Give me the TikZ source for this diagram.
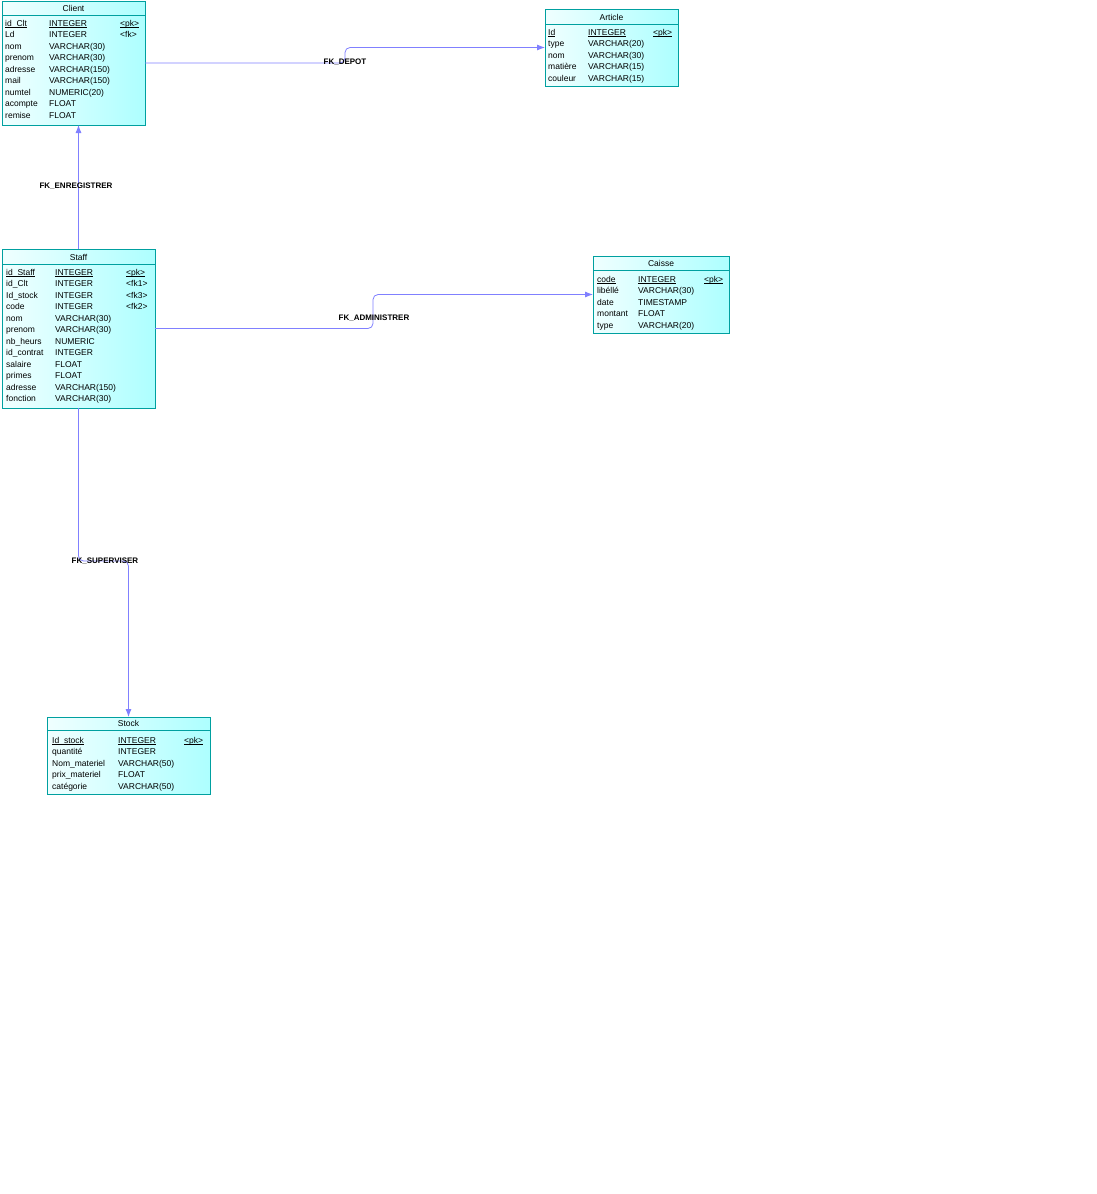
\documentclass[tikz,border=0pt]{standalone}
\usepackage{fontspec}
\setmainfont{Liberation Sans}
\usetikzlibrary{arrows.meta}
\definecolor{tablecol}{RGB}{0,160,160}
\definecolor{fkcol}{RGB}{128,128,255}
\newcommand{\pkey}[1]{\underline{\smash{#1}}}

\begin{document}
\begin{tikzpicture}[x=1pt,y=-1pt,
    tablebox/.style={draw=tablecol,line width=0.8pt,left color=cyan!6,right color=cyan!32,
      anchor=north west,inner sep=0pt,outer sep=0pt},
    fieldtext/.style={anchor=base west,inner sep=0pt,font=\fontsize{8.5}{9}\selectfont},
    tabtitle/.style={inner sep=0pt,font=\fontsize{8.5}{9}\selectfont},
    fk/.style={draw=fkcol,line width=0.8pt,rounded corners=5pt,-{Latex[length=8pt,width=6pt]}},
    fklabel/.style={inner sep=0pt,font=\fontsize{8}{9}\selectfont\bfseries}]
  \useasboundingbox (0,0) rectangle (1097,1194);

  % Client
  \node[tablebox,minimum width=143pt,minimum height=124pt] (client) at (2,1) {};
  \draw[tablecol,line width=0.8pt] ([yshift=-14pt]client.north west) -- ([yshift=-14pt]client.north east);
  \node[tabtitle] (client-title) at ([yshift=-7.5pt]client.north) {Client};
  \foreach \n/\t/\k [count=\i] in {{\pkey{id\_Clt}}/{\pkey{INTEGER}}/{\pkey{<pk>}},
      Ld/INTEGER/<fk>, nom/VARCHAR(30)/{}, prenom/VARCHAR(30)/{}, adresse/VARCHAR(150)/{},
      mail/VARCHAR(150)/{}, numtel/NUMERIC(20)/{}, acompte/FLOAT/{}, remise/FLOAT/{}}
  {
    \node[fieldtext] (client-n\i) at (5,{26+11.5*(\i-1)}) {\n};
    \node[fieldtext] (client-t\i) at (49,{26+11.5*(\i-1)}) {\t};
    \node[fieldtext] (client-k\i) at (120,{26+11.5*(\i-1)}) {\k};
  }

  % Article
  \node[tablebox,minimum width=133pt,minimum height=77pt] (article) at (545,9) {};
  \draw[tablecol,line width=0.8pt] ([yshift=-15pt]article.north west) -- ([yshift=-15pt]article.north east);
  \node[tabtitle] (article-title) at ([yshift=-8pt]article.north) {Article};
  \foreach \n/\t/\k [count=\i] in {{\pkey{Id}}/{\pkey{INTEGER}}/{\pkey{<pk>}},
      type/VARCHAR(20)/{}, nom/VARCHAR(30)/{}, matière/VARCHAR(15)/{}, couleur/VARCHAR(15)/{}}
  {
    \node[fieldtext] (article-n\i) at (548,{35+11.5*(\i-1)}) {\n};
    \node[fieldtext] (article-t\i) at (588,{35+11.5*(\i-1)}) {\t};
    \node[fieldtext] (article-k\i) at (653,{35+11.5*(\i-1)}) {\k};
  }

  % Staff
  \node[tablebox,minimum width=153pt,minimum height=159pt] (staff) at (2,249) {};
  \draw[tablecol,line width=0.8pt] ([yshift=-15pt]staff.north west) -- ([yshift=-15pt]staff.north east);
  \node[tabtitle] (staff-title) at ([yshift=-8pt]staff.north) {Staff};
  \foreach \n/\t/\k [count=\i] in {{\pkey{id\_Staff}}/{\pkey{INTEGER}}/{\pkey{<pk>}},
      id\_Clt/INTEGER/<fk1>, Id\_stock/INTEGER/<fk3>, code/INTEGER/<fk2>,
      nom/VARCHAR(30)/{}, prenom/VARCHAR(30)/{}, nb\_heurs/NUMERIC/{}, id\_contrat/INTEGER/{},
      salaire/FLOAT/{}, primes/FLOAT/{}, adresse/VARCHAR(150)/{}, fonction/VARCHAR(30)/{}}
  {
    \node[fieldtext] (staff-n\i) at (6,{275+11.5*(\i-1)}) {\n};
    \node[fieldtext] (staff-t\i) at (55,{275+11.5*(\i-1)}) {\t};
    \node[fieldtext] (staff-k\i) at (126,{275+11.5*(\i-1)}) {\k};
  }

  % Caisse
  \node[tablebox,minimum width=136pt,minimum height=77pt] (caisse) at (593,256) {};
  \draw[tablecol,line width=0.8pt] ([yshift=-14pt]caisse.north west) -- ([yshift=-14pt]caisse.north east);
  \node[tabtitle] (caisse-title) at ([yshift=-7.5pt]caisse.north) {Caisse};
  \foreach \n/\t/\k [count=\i] in {{\pkey{code}}/{\pkey{INTEGER}}/{\pkey{<pk>}},
      libéllé/VARCHAR(30)/{}, date/TIMESTAMP/{}, montant/FLOAT/{}, type/VARCHAR(20)/{}}
  {
    \node[fieldtext] (caisse-n\i) at (597,{282+11.5*(\i-1)}) {\n};
    \node[fieldtext] (caisse-t\i) at (638,{282+11.5*(\i-1)}) {\t};
    \node[fieldtext] (caisse-k\i) at (704,{282+11.5*(\i-1)}) {\k};
  }

  % Stock
  \node[tablebox,minimum width=163pt,minimum height=77pt] (stock) at (47,717) {};
  \draw[tablecol,line width=0.8pt] ([yshift=-13pt]stock.north west) -- ([yshift=-13pt]stock.north east);
  \node[tabtitle] (stock-title) at ([yshift=-6.5pt]stock.north) {Stock};
  \foreach \n/\t/\k [count=\i] in {{\pkey{Id\_stock}}/{\pkey{INTEGER}}/{\pkey{<pk>}},
      quantité/INTEGER/{}, Nom\_materiel/VARCHAR(50)/{}, prix\_materiel/FLOAT/{}, catégorie/VARCHAR(50)/{}}
  {
    \node[fieldtext] (stock-n\i) at (52,{743+11.5*(\i-1)}) {\n};
    \node[fieldtext] (stock-t\i) at (118,{743+11.5*(\i-1)}) {\t};
    \node[fieldtext] (stock-k\i) at (184,{743+11.5*(\i-1)}) {\k};
  }

  % references
  \draw[fk] (client.east) -- ++(200,0) |- (article.west);
  \draw[fk] (staff.north) -- (staff.north |- client.south);
  \draw[fk] (staff.east) -- ++(218,0) |- (caisse.west);
  \draw[fk] (staff.south) -- ++(0,153) -| (stock.north);
  \node[fklabel] (lbl-depot) at (345,62) {FK\_DEPOT};
  \node[fklabel] (lbl-enreg) at (76,186) {FK\_ENREGISTRER};
  \node[fklabel] (lbl-admin) at (374,318) {FK\_ADMINISTRER};
  \node[fklabel] (lbl-super) at (105,561) {FK\_SUPERVISER};
\end{tikzpicture}
\end{document}
